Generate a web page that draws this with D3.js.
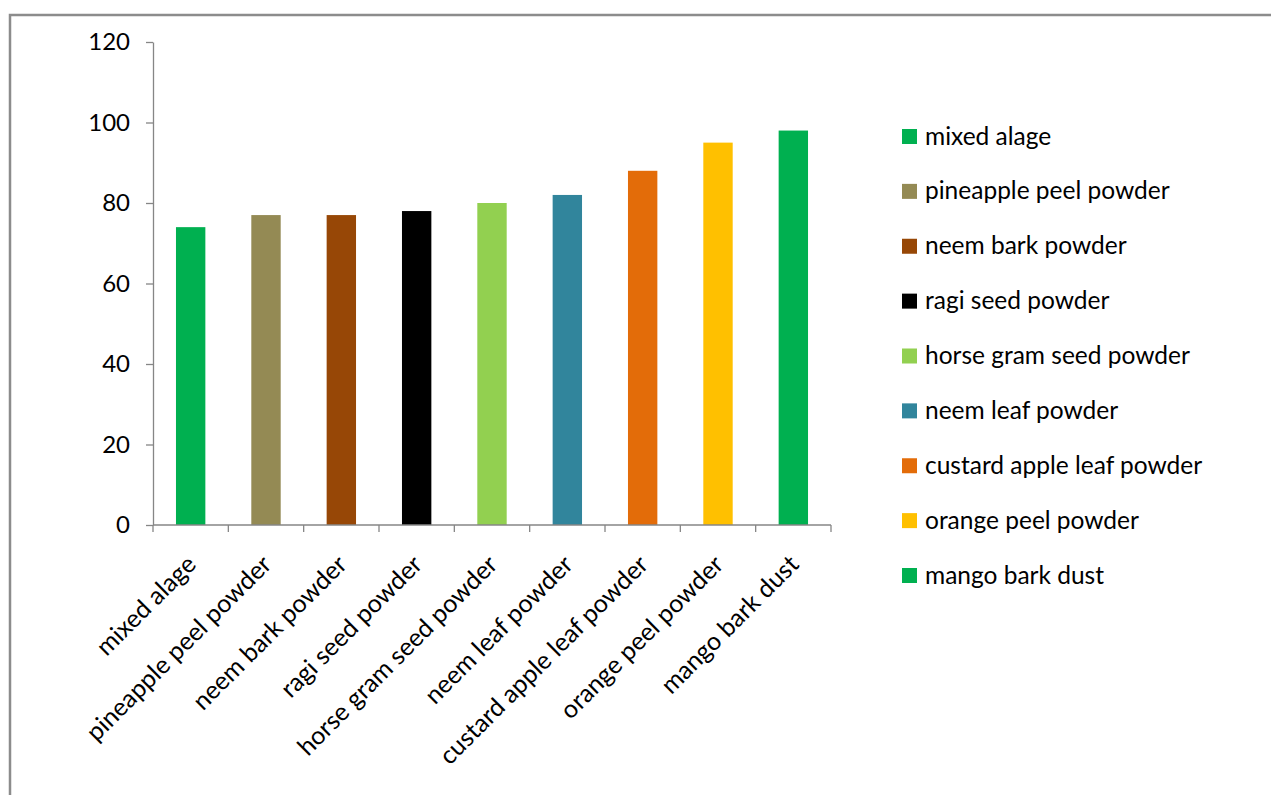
<!DOCTYPE html>
<html>
<head>
<meta charset="utf-8">
<script src="https://cdn.jsdelivr.net/npm/d3@7"></script>
<style>
  html, body { margin: 0; padding: 0; background: #fff; }
  svg { display: block; }
  text { font-family: Lato, "Open Sans", sans-serif; fill: #000; }
</style>
</head>
<body>
<svg id="chart" width="1271" height="795"></svg>
<script>
const categories = ["mixed alage", "pineapple peel powder", "neem bark powder", "ragi seed powder",
  "horse gram seed powder", "neem leaf powder", "custard apple leaf powder", "orange peel powder", "mango bark dust"];
const values = [74, 77, 77, 78, 80, 82, 88, 95, 98];
const colors = ["#00B050", "#948A54", "#974706", "#000000", "#92D050", "#31859C", "#E36C09", "#FFC000", "#00B050"];
const yTicks = [0, 20, 40, 60, 80, 100, 120];

const svg = d3.select("#chart");
const W = 1271, H = 795;

// outer frame (left and top edges visible)
svg.append("path")
  .attr("d", `M10,${H} L10,15 L${W},15`)
  .attr("fill", "none").attr("stroke", "#8c8c8c").attr("stroke-width", 2.5);

const plot = { left: 153, right: 831, top: 42, bottom: 525 };

const x = d3.scaleBand().domain(categories).range([plot.left, plot.right])
  .paddingInner(0.61).paddingOuter(0.305);
const y = d3.scaleLinear().domain([0, 120]).range([plot.bottom, plot.top]);

const axisColor = "#868686";

// y axis
const yAxis = svg.append("g").attr("transform", `translate(${plot.left},0)`)
  .call(d3.axisLeft(y).tickValues(yTicks).tickSize(7).tickPadding(16).tickSizeOuter(0));
yAxis.select(".domain").attr("stroke", axisColor).attr("stroke-width", 1.3);
yAxis.selectAll(".tick line").attr("stroke", axisColor).attr("stroke-width", 1.3);
yAxis.selectAll(".tick text").style("font-size", "24px").style("font-family", "Lato, sans-serif").attr("fill", "#000");

// bars
svg.append("g").selectAll("rect").data(categories).join("rect")
  .attr("x", d => x(d))
  .attr("width", x.bandwidth())
  .attr("y", (d, i) => y(values[i]))
  .attr("height", (d, i) => y(0) - y(values[i]))
  .attr("fill", (d, i) => colors[i]);

// x axis line and boundary ticks
const step = x.step();
const bounds = d3.range(categories.length + 1).map(i => plot.left + i * step);
svg.append("line").attr("x1", plot.left).attr("x2", plot.right)
  .attr("y1", plot.bottom).attr("y2", plot.bottom)
  .attr("stroke", axisColor).attr("stroke-width", 1.3);
svg.append("g").selectAll("line").data(bounds).join("line")
  .attr("x1", d => d).attr("x2", d => d)
  .attr("y1", plot.bottom).attr("y2", plot.bottom + 7)
  .attr("stroke", axisColor).attr("stroke-width", 1.3);

// x labels rotated
const xAxis = svg.append("g").attr("transform", `translate(0,${plot.bottom})`)
  .call(d3.axisBottom(x).tickSize(0).tickPadding(0));
xAxis.select(".domain").remove();
xAxis.selectAll(".tick text")
  .style("font-size", "25px").style("font-family", "Lato, sans-serif").attr("fill", "#000")
  .attr("text-anchor", "end")
  .attr("dy", "0")
  .attr("y", 0)
  .attr("transform", "translate(7,41) rotate(-45)");

// legend
const legend = svg.append("g");
const ly = d3.scalePoint().domain(categories).range([136, 575]);
const items = legend.selectAll("g").data(categories).join("g")
  .attr("transform", d => `translate(902,${ly(d)})`);
items.append("rect").attr("x", 0).attr("y", -7).attr("width", 15).attr("height", 15)
  .attr("fill", (d, i) => colors[i]);
items.append("text").attr("x", 23).attr("y", 0).attr("dy", "0.35em")
  .style("font-size", "24.5px").text(d => d);
</script>
</body>
</html>
